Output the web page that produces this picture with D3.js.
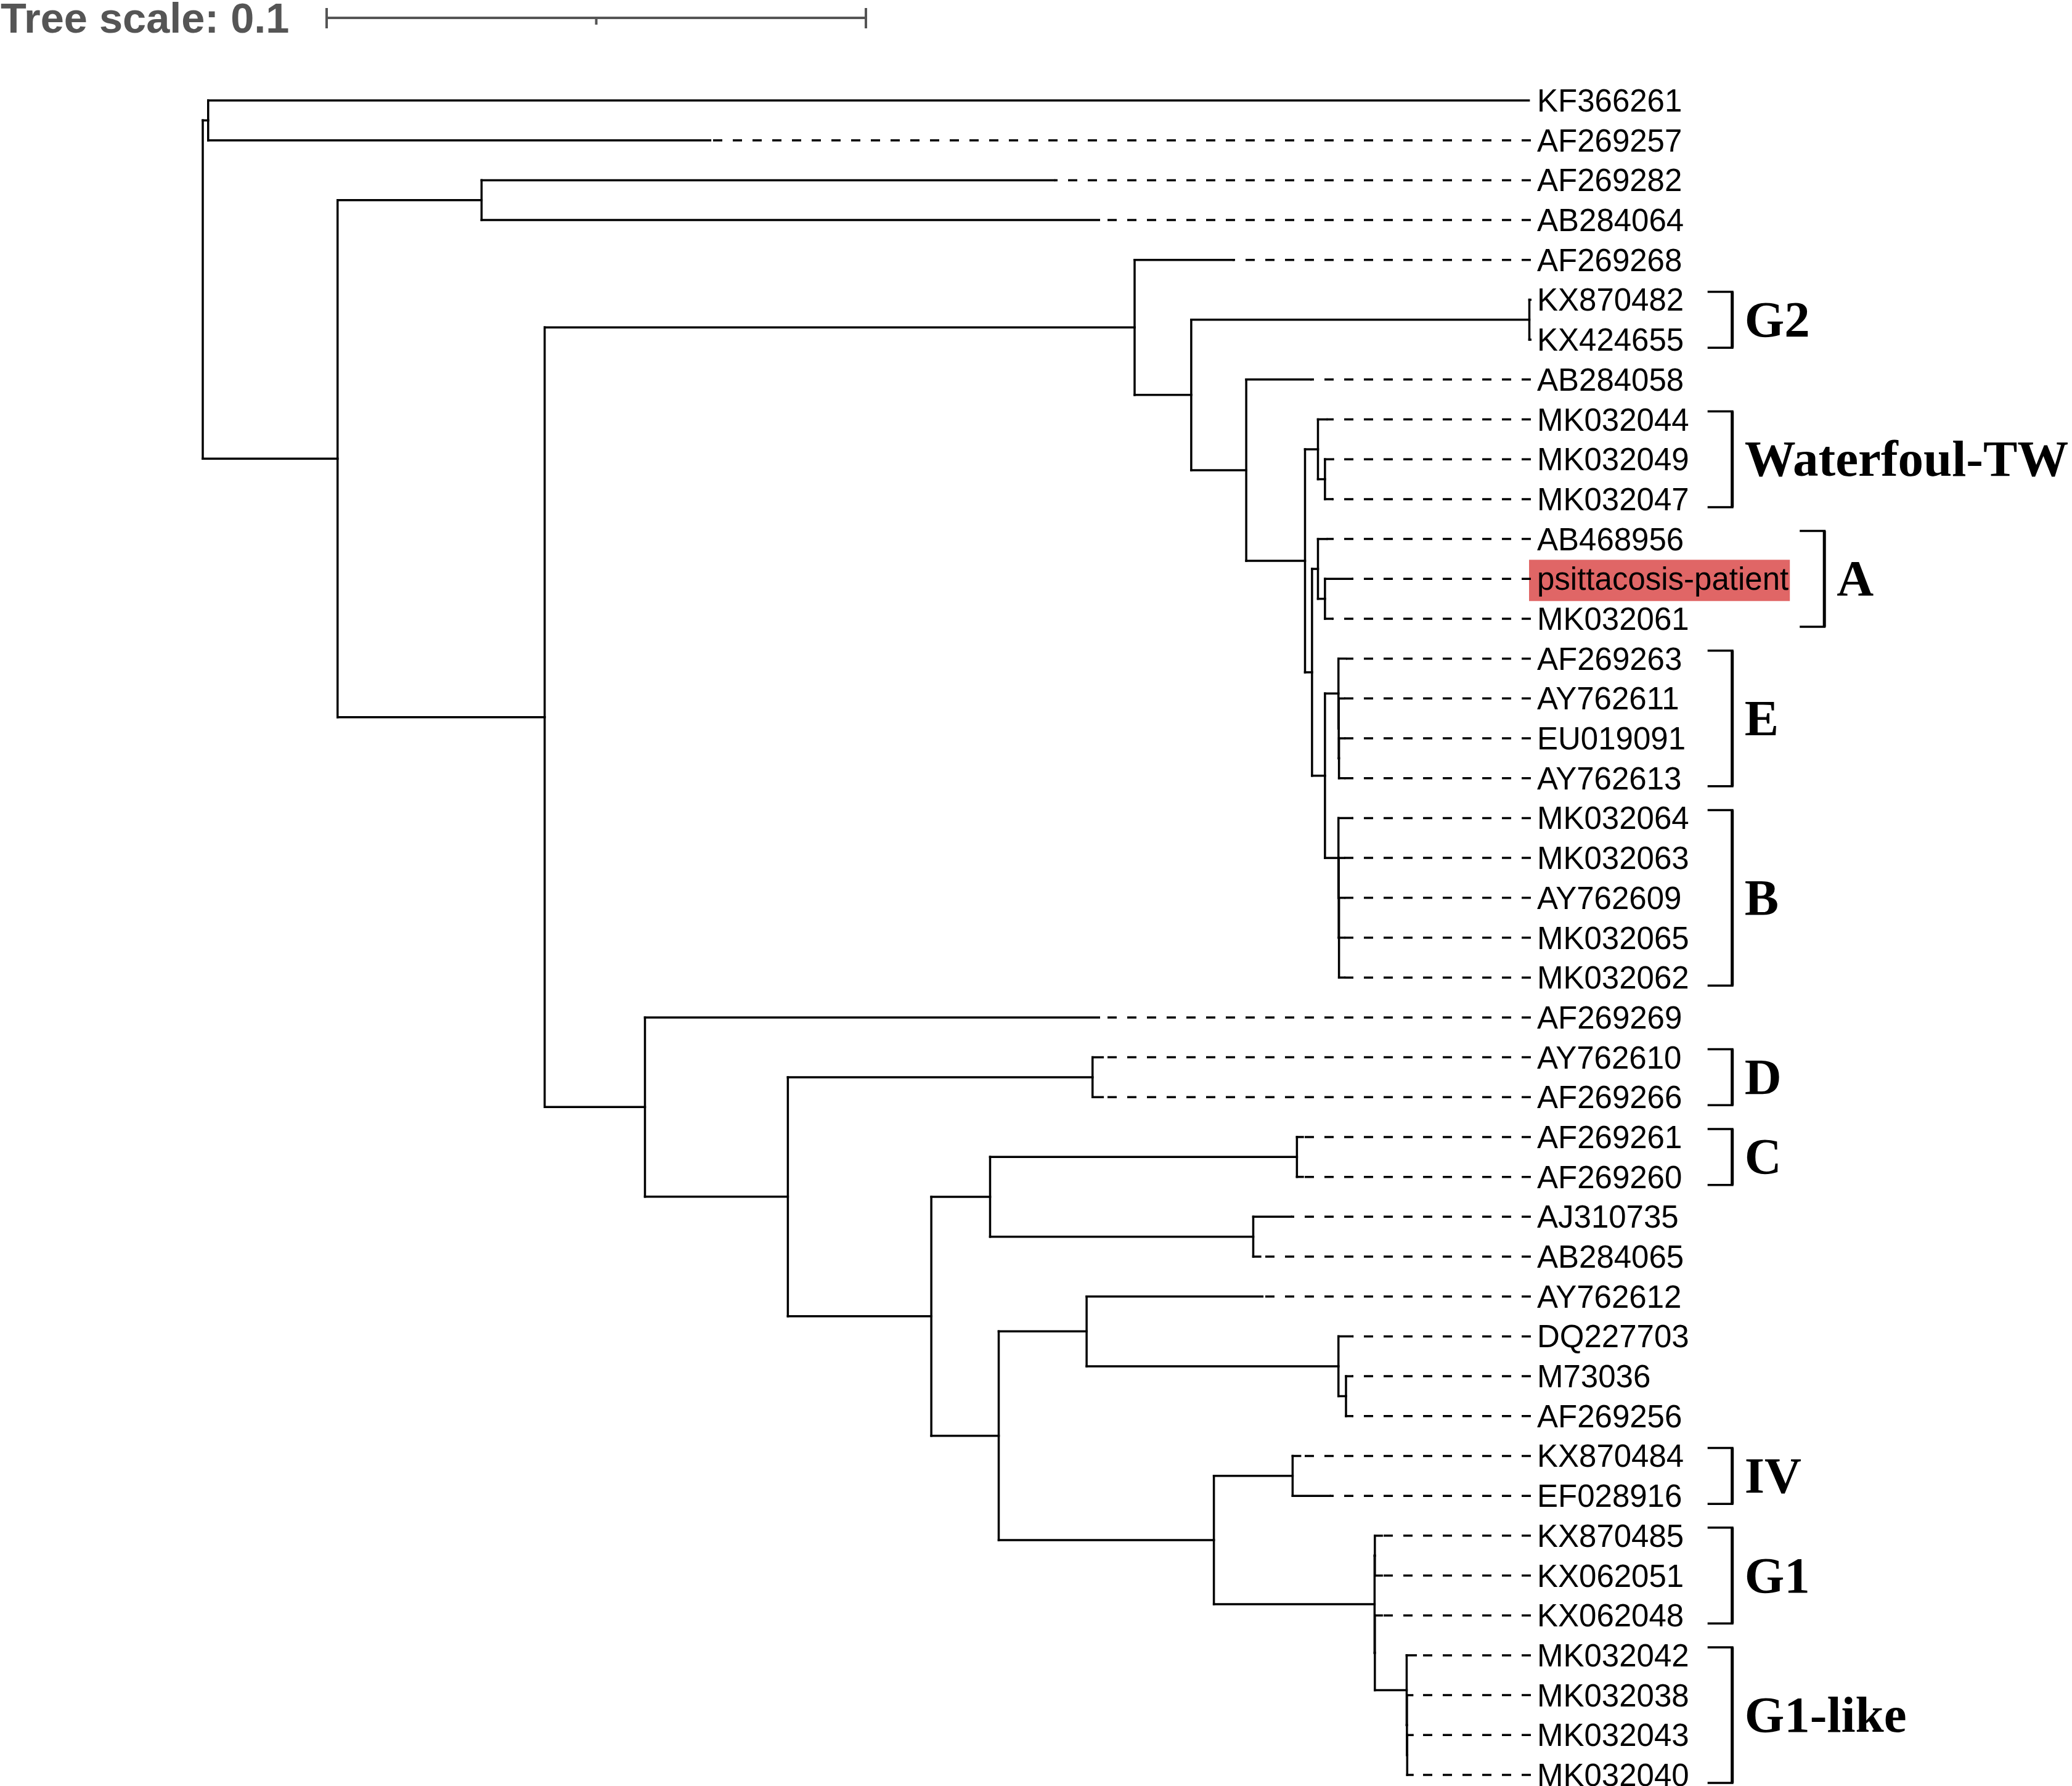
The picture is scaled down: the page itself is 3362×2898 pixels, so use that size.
<!DOCTYPE html>
<html>
<head>
<meta charset="utf-8">
<script src="https://cdn.jsdelivr.net/npm/d3@7"></script>
<style>
  body { margin: 0; background: #fff; }
</style>
</head>
<body>
<div id="tree"></div>
<script>
// tree as [node, parent, branch length], children in drawing order
const branches = [
  ["root", "", 0],
  ["nA", "root", 0.0010],
  ["KF366261", "nA", 0.2449],
  ["AF269257", "nA", 0.0931],
  ["nB", "root", 0.0250],
  ["nC", "nB", 0.0267],
  ["AF269282", "nC", 0.1062],
  ["AB284064", "nC", 0.1145],
  ["nD", "nB", 0.0384],
  ["nE", "nD", 0.1094],
  ["AF269268", "nE", 0.0182],
  ["nG", "nE", 0.0105],
  ["nG2", "nG", 0.0627],
  ["KX870482", "nG2", 0.0002],
  ["KX424655", "nG2", 0.0002],
  ["nH", "nG", 0.0102],
  ["AB284058", "nH", 0.0119],
  ["nI", "nH", 0.0109],
  ["nWTW", "nI", 0.0024],
  ["MK032044", "nWTW", 0.0016],
  ["nJ", "nWTW", 0.0013],
  ["MK032049", "nJ", 0.0015],
  ["MK032047", "nJ", 0.0013],
  ["nK", "nI", 0.0013],
  ["nAcl", "nK", 0.0011],
  ["AB468956", "nAcl", 0.0016],
  ["nL", "nAcl", 0.0013],
  ["psittacosis-patient", "nL", 0.0050],
  ["MK032061", "nL", 0.0013],
  ["nM", "nK", 0.0024],
  ["nEcl", "nM", 0.0025],
  ["AF269263", "nEcl", 0.0014],
  ["nE1", "nEcl", 0.00005],
  ["AY762611", "nE1", 0.0010],
  ["nE2", "nE1", 0.00005],
  ["EU019091", "nE2", 0.0010],
  ["AY762613", "nE2", 0.0010],
  ["nBcl", "nM", 0.0025],
  ["MK032064", "nBcl", 0.0025],
  ["nB1", "nBcl", 0.00005],
  ["MK032063", "nB1", 0.0010],
  ["nB2", "nB1", 0.00005],
  ["AY762609", "nB2", 0.0010],
  ["MK032065", "nB2", 0.0010],
  ["MK032062", "nB2", 0.0010],
  ["nF", "nD", 0.0186],
  ["AF269269", "nF", 0.0842],
  ["nN", "nF", 0.0265],
  ["nDcl", "nN", 0.0565],
  ["AY762610", "nDcl", 0.0019],
  ["AF269266", "nDcl", 0.0019],
  ["nO", "nN", 0.0266],
  ["nP", "nO", 0.0109],
  ["nCcl", "nP", 0.0569],
  ["AF269261", "nCcl", 0.0011],
  ["AF269260", "nCcl", 0.0011],
  ["nQ", "nP", 0.0488],
  ["AJ310735", "nQ", 0.0070],
  ["AB284065", "nQ", 0.0013],
  ["nS", "nO", 0.0125],
  ["nR", "nS", 0.0163],
  ["AY762612", "nR", 0.0326],
  ["nT", "nR", 0.0467],
  ["DQ227703", "nT", 0.0026],
  ["nU", "nT", 0.0014],
  ["M73036", "nU", 0.0011],
  ["AF269256", "nU", 0.0011],
  ["nV", "nS", 0.0399],
  ["nIV", "nV", 0.0146],
  ["KX870484", "nIV", 0.0014],
  ["EF028916", "nIV", 0.0069],
  ["nW", "nV", 0.0298],
  ["nW1", "nW", 0.00005],
  ["KX870485", "nW1", 0.0013],
  ["KX062051", "nW1", 0.0013],
  ["nW2", "nW", 0.00005],
  ["KX062048", "nW2", 0.0013],
  ["nG1L", "nW2", 0.0059],
  ["MK032042", "nG1L", 0.0017],
  ["nG1L1", "nG1L", 0.00005],
  ["MK032038", "nG1L1", 0.0010],
  ["nG1L2", "nG1L1", 0.00005],
  ["MK032043", "nG1L2", 0.0010],
  ["MK032040", "nG1L2", 0.0010]
];

const highlightLeaves = ["psittacosis-patient"];

const cladeNames = ["G2", "Waterfoul-TW", "A", "E", "B", "D", "C", "IV", "G1", "G1-like"];
const cladeFirst = ["KX870482", "MK032044", "AB468956", "AF269263", "MK032064", "AY762610", "AF269261", "KX870484", "KX870485", "MK032042"];
const cladeLast  = ["KX424655", "MK032047", "MK032061", "AY762613", "MK032062", "AF269266", "AF269260", "EF028916", "KX062048", "MK032040"];

const scaleTicks = [0, 0.05, 0.1];
const scaleTitle = "Tree scale: 0.1";

// layout
const width = 3362, height = 2898;
const labelX = 2494;
const labelFont = "'Liberation Sans', Arial, sans-serif";
const cladeFont = "'Liberation Serif', 'Times New Roman', serif";

const svg = d3.select("#tree")
  .append("svg")
  .attr("width", width)
  .attr("height", height)
  .style("background", "#fff");

const root = d3.stratify()
  .id(d => d[0])
  .parentId(d => d[1] || null)(branches);

root.eachBefore(n => { n.dist = n.parent ? n.parent.dist + n.data[2] : 0; });

const leaves = root.leaves();

// 0.1 substitutions per site = 875 px
const x = d3.scaleLinear().domain([0, 0.1]).range([329, 1204]);
const y = d3.scalePoint().domain(leaves.map(d => d.id)).range([163, 2880]);

root.eachAfter(n => {
  n.px = x(n.dist);
  n.py = n.children
    ? (n.children[0].py + n.children[n.children.length - 1].py) / 2
    : y(n.id);
});

// --- scale bar
const sb = svg.append("g").attr("class", "scalebar");
const sbX = d3.scaleLinear().domain([0, 0.1]).range([530, 530 + x(0.1) - x(0)]);
sb.append("text")
  .attr("x", 1)
  .attr("y", 53)
  .attr("font-family", labelFont)
  .attr("font-weight", "bold")
  .attr("font-size", 68.5)
  .attr("fill", "#555")
  .text(scaleTitle);
sb.append("line")
  .attr("x1", sbX(0)).attr("x2", sbX(0.1))
  .attr("y1", 29).attr("y2", 29)
  .attr("stroke", "#555").attr("stroke-width", 4);
sb.selectAll(".tick")
  .data(scaleTicks)
  .join("line")
  .attr("x1", d => sbX(d)).attr("x2", d => sbX(d))
  .attr("y1", (d, i) => (i === 0 || i === scaleTicks.length - 1) ? 13 : 29)
  .attr("y2", (d, i) => (i === 0 || i === scaleTicks.length - 1) ? 46 : 40)
  .attr("stroke", "#555").attr("stroke-width", 4);

// --- highlight box behind labels (drawn first so text sits on top)
const hlG = svg.append("g");

// --- dashed leaf extensions
svg.append("g")
  .selectAll("line")
  .data(leaves.filter(d => d.px < labelX - 16))
  .join("line")
  .attr("x1", labelX - 10)
  .attr("x2", d => d.px)
  .attr("y1", d => d.py)
  .attr("y2", d => d.py)
  .attr("stroke", "#000")
  .attr("stroke-width", 3.5)
  .attr("stroke-dasharray", "15,17");

// --- branches
const br = svg.append("g")
  .attr("stroke", "#000")
  .attr("stroke-width", 3.5)
  .attr("stroke-linecap", "square")
  .attr("fill", "none");

br.selectAll(".h")
  .data(root.descendants().filter(d => d.parent))
  .join("line")
  .attr("x1", d => d.parent.px)
  .attr("x2", d => d.px)
  .attr("y1", d => d.py)
  .attr("y2", d => d.py);

br.selectAll(".v")
  .data(root.descendants().filter(d => d.children))
  .join("line")
  .attr("x1", d => d.px)
  .attr("x2", d => d.px)
  .attr("y1", d => d.children[0].py)
  .attr("y2", d => d.children[d.children.length - 1].py);

// --- leaf labels
const labels = svg.append("g")
  .selectAll("text")
  .data(leaves)
  .join("text")
  .attr("x", labelX)
  .attr("y", d => d.py + 18)
  .attr("font-family", labelFont)
  .attr("font-size", 51)
  .attr("fill", "#000")
  .text(d => d.id);

const labelEnd = {};
labels.each(function (d) { labelEnd[d.id] = labelX + this.getComputedTextLength(); });

labels.filter(d => highlightLeaves.includes(d.id)).each(function (d) {
  const w = this.getComputedTextLength();
  hlG.append("rect")
    .attr("x", labelX - 13)
    .attr("y", d.py - 31)
    .attr("width", w + 15)
    .attr("height", 67)
    .attr("fill", "#e06666");
  labelEnd[d.id] = labelX + w + 2;
});

// --- clade brackets
const normalEnd = d3.max(leaves.filter(d => !highlightLeaves.includes(d.id)), d => labelEnd[d.id]);

cladeNames.forEach((name, i) => {
  const i0 = y.domain().indexOf(cladeFirst[i]);
  const i1 = y.domain().indexOf(cladeLast[i]);
  const members = y.domain().slice(i0, i1 + 1);
  const hasHl = members.some(m => highlightLeaves.includes(m));
  const bx = hasHl ? d3.max(members, m => labelEnd[m]) + 56 : normalEnd + 70;
  const top = y(cladeFirst[i]) - 13;
  const bot = y(cladeLast[i]) + 13;
  const g = svg.append("g").attr("stroke", "#000");
  g.append("line").attr("x1", bx).attr("x2", bx).attr("y1", top).attr("y2", bot).attr("stroke-width", 5);
  g.append("line").attr("x1", bx - 40).attr("x2", bx + 2).attr("y1", top).attr("y2", top).attr("stroke-width", 3.5);
  g.append("line").attr("x1", bx - 40).attr("x2", bx + 2).attr("y1", bot).attr("y2", bot).attr("stroke-width", 3.5);
  svg.append("text")
    .attr("x", bx + 20)
    .attr("y", (top + bot) / 2 + 27)
    .attr("font-family", cladeFont)
    .attr("font-weight", "bold")
    .attr("font-size", 83)
    .attr("fill", "#000")
    .text(name);
});
</script>
</body>
</html>
